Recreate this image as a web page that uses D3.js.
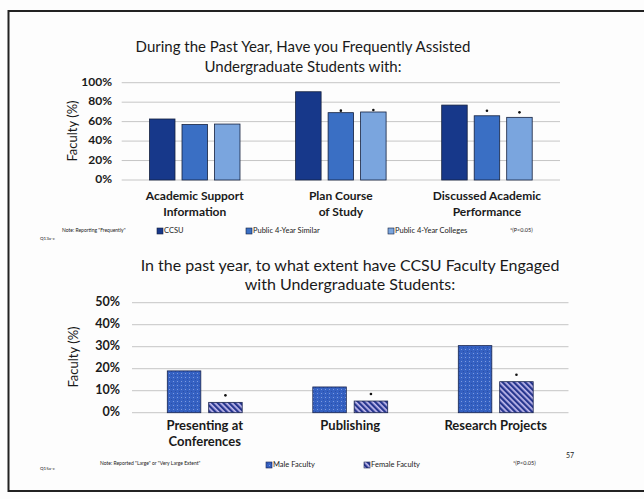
<!DOCTYPE html>
<html><head><meta charset="utf-8">
<script src="https://cdn.jsdelivr.net/npm/d3@7"></script>
<style>body{margin:0;background:#fff}svg{display:block}</style>
</head><body>
<script>
// ---- data (top chart) ----
const topCategories = [["Academic Support","Information"],["Plan Course","of Study"],["Discussed Academic","Performance"]];
const topSeries = ["CCSU","Public 4-Year Similar","Public 4-Year Colleges"];
const ccsuValues = [62.7, 90.7, 77];
const similarValues = [57, 69.2, 66];
const collegesValues = [57.5, 69.9, 64.4];
const similarSig = [false, true, true];
const collegesSig = [false, true, true];
const topTicks = [0,20,40,60,80,100];
// ---- data (bottom chart) ----
const botCategories = [["Presenting at","Conferences"],["Publishing"],["Research Projects"]];
const botSeries = ["Male Faculty","Female Faculty"];
const maleValues = [19, 11.7, 30.5];
const femaleValues = [4.7, 5.3, 14.1];
const femaleSig = [true, true, true];
const botTicks = [0,10,20,30,40,50];

const W=644,H=499;
const svg=d3.select("body").append("svg").attr("width",W).attr("height",H);
svg.append("rect").attr("width",W).attr("height",H).attr("fill","#fdfdfd");
const defs=svg.append("defs");
// male dotted pattern
const pm=defs.append("pattern").attr("id","dots").attr("patternUnits","userSpaceOnUse").attr("width",4).attr("height",4);
pm.append("rect").attr("width",4).attr("height",4).attr("fill","#3561c2");
pm.append("rect").attr("x",1).attr("y",1).attr("width",1).attr("height",1).attr("fill","#7d9ae0");
pm.append("rect").attr("x",3).attr("y",3).attr("width",1).attr("height",1).attr("fill","#2a4ea8");
// female striped pattern
const pf=defs.append("pattern").attr("id","stripes").attr("patternUnits","userSpaceOnUse").attr("width",4).attr("height",4).attr("patternTransform","rotate(-45)");
pf.append("rect").attr("width",4).attr("height",4).attr("fill","#c4bdf0");
pf.append("rect").attr("width",2.3).attr("height",4).attr("fill","#27368f");

svg.append("rect").attr("x",8.5).attr("y",11).attr("width",700).attr("height",480).attr("fill","none").attr("stroke","#222").attr("stroke-width",2);

const FONT="Lato, 'Open Sans', sans-serif";
const txt=(x,y,s,o={})=>svg.append("text").attr("x",x).attr("y",y).text(s)
  .attr("font-family",FONT).attr("font-size",o.size||12).attr("font-weight",o.bold?"bold":"normal")
  .attr("text-anchor",o.anchor||"start").attr("fill",o.fill||"#1a1a1a").attr("dominant-baseline","middle");

// ===== TOP CHART =====
txt(303,48,"During the Past Year, Have you Frequently Assisted",{size:15,anchor:"middle"});
txt(303,68,"Undergraduate Students with:",{size:15,anchor:"middle"});

const yT=d3.scaleLinear().domain([0,100]).range([180,82.7]);
const xT=d3.scaleBand().domain(d3.range(3)).range([121.7,560]);
const xT1=d3.scaleBand().domain(d3.range(3)).range([27.8,118.3]).paddingInner(0.2154);
const gT=svg.append("g");
gT.selectAll("line.g").data(topTicks).join("line").attr("x1",121.7).attr("x2",560)
  .attr("y1",d=>yT(d)).attr("y2",d=>yT(d)).attr("stroke","#c6c6c6").attr("stroke-width",1);
gT.selectAll("text.t").data(topTicks).join("text").attr("x",112).attr("y",d=>yT(d)).text(d=>d+"%")
  .attr("text-anchor","end").attr("dominant-baseline","middle").attr("font-family",FONT).attr("font-size",12).attr("font-weight","bold").attr("fill","#1a1a1a");
svg.append("text").attr("transform","translate(74,131) rotate(-90)").text("Faculty (%)").attr("text-anchor","middle")
  .attr("dominant-baseline","middle").attr("font-family",FONT).attr("font-size",13).attr("fill","#1a1a1a");
const topColors=["#17388a","#3a6fc4","#7aa5de"];
const topVals=[ccsuValues,similarValues,collegesValues];
const topSig=[[false,false,false],similarSig,collegesSig];
topVals.forEach((vals,s)=>{
  gT.selectAll("rect.s"+s).data(vals).join("rect").attr("x",(d,i)=>xT(i)+xT1(s)).attr("width",xT1.bandwidth())
    .attr("y",d=>yT(d)).attr("height",d=>yT(0)-yT(d)).attr("fill",topColors[s]).attr("stroke","#14213f").attr("stroke-width",0.8);
  gT.selectAll("circle.s"+s).data(vals.map((v,i)=>({v,i})).filter(d=>topSig[s][d.i])).join("circle")
    .attr("cx",d=>xT(d.i)+xT1(s)+xT1.bandwidth()/2).attr("cy",d=>yT(d.v)-(d.i===1?2:5)).attr("r",1.3).attr("fill","#111");
});
topCategories.forEach((lines,i)=>lines.forEach((l,j)=>txt(xT(i)+xT.bandwidth()/2,197+j*16,l,{size:12,bold:true,anchor:"middle"})));
// top legend
txt(62,231,"Note: Reporting \"Frequently\"",{size:5});
txt(40,239,"Q13a-c",{size:4.5});
const tlx=[157,246,388];
topSeries.forEach((s,i)=>{
  svg.append("rect").attr("x",tlx[i]).attr("y",228).attr("width",6).attr("height",6).attr("fill",topColors[i]).attr("stroke","#14213f").attr("stroke-width",0.6);
  txt(tlx[i]+7,231.5,s,{size:7.5});
});
txt(510,231,"*(P<0.05)",{size:5.5});

// ===== BOTTOM CHART =====
txt(350,267,"In the past year, to what extent have CCSU Faculty Engaged",{size:16,anchor:"middle"});
txt(350,286,"with Undergraduate Students:",{size:16,anchor:"middle"});

const yB=d3.scaleLinear().domain([0,50]).range([412.7,302.7]);
const xB=d3.scaleBand().domain(d3.range(3)).range([132,568.5]);
const xB1=d3.scaleBand().domain(d3.range(2)).range([35.3,110.2]).paddingInner(0.19);
const gB=svg.append("g");
gB.selectAll("line.g").data(botTicks).join("line").attr("x1",132).attr("x2",568.5)
  .attr("y1",d=>yB(d)).attr("y2",d=>yB(d)).attr("stroke","#c6c6c6").attr("stroke-width",1);
gB.selectAll("text.t").data(botTicks).join("text").attr("x",120).attr("y",d=>yB(d)).text(d=>d+"%")
  .attr("text-anchor","end").attr("dominant-baseline","middle").attr("font-family",FONT).attr("font-size",12.5).attr("font-weight","bold").attr("fill","#1a1a1a");
svg.append("text").attr("transform","translate(75,357) rotate(-90)").text("Faculty (%)").attr("text-anchor","middle")
  .attr("dominant-baseline","middle").attr("font-family",FONT).attr("font-size",13).attr("fill","#1a1a1a");
const botFills=["url(#dots)","url(#stripes)"];
const botVals=[maleValues,femaleValues];
const botSig=[[false,false,false],femaleSig];
botVals.forEach((vals,s)=>{
  gB.selectAll("rect.s"+s).data(vals).join("rect").attr("x",(d,i)=>xB(i)+xB1(s)).attr("width",xB1.bandwidth())
    .attr("y",d=>yB(d)).attr("height",d=>yB(0)-yB(d)).attr("fill",botFills[s]).attr("stroke","#1b2650").attr("stroke-width",0.8);
  gB.selectAll("circle.s"+s).data(vals.map((v,i)=>({v,i})).filter(d=>botSig[s][d.i])).join("circle")
    .attr("cx",d=>xB(d.i)+xB1(s)+xB1.bandwidth()/2).attr("cy",d=>yB(d.v)-7).attr("r",1.3).attr("fill","#111");
});
botCategories.forEach((lines,i)=>lines.forEach((l,j)=>txt(xB(i)+xB.bandwidth()/2,427+j*16,l,{size:13,bold:true,anchor:"middle"})));
txt(100,464,"Note: Reported \"Large\" or \"Very Large Extent\"",{size:5});
txt(40,469,"Q15a-c",{size:4.5});
const blx=[266,364];
botSeries.forEach((s,i)=>{
  svg.append("rect").attr("x",blx[i]).attr("y",462).attr("width",6).attr("height",6).attr("fill",botFills[i]).attr("stroke","#1b2650").attr("stroke-width",0.6);
  txt(blx[i]+7,465.5,s,{size:7.5});
});
txt(513,464,"*(P<0.05)",{size:5.5});
txt(566,456,"57",{size:7});
</script>
</body></html>
